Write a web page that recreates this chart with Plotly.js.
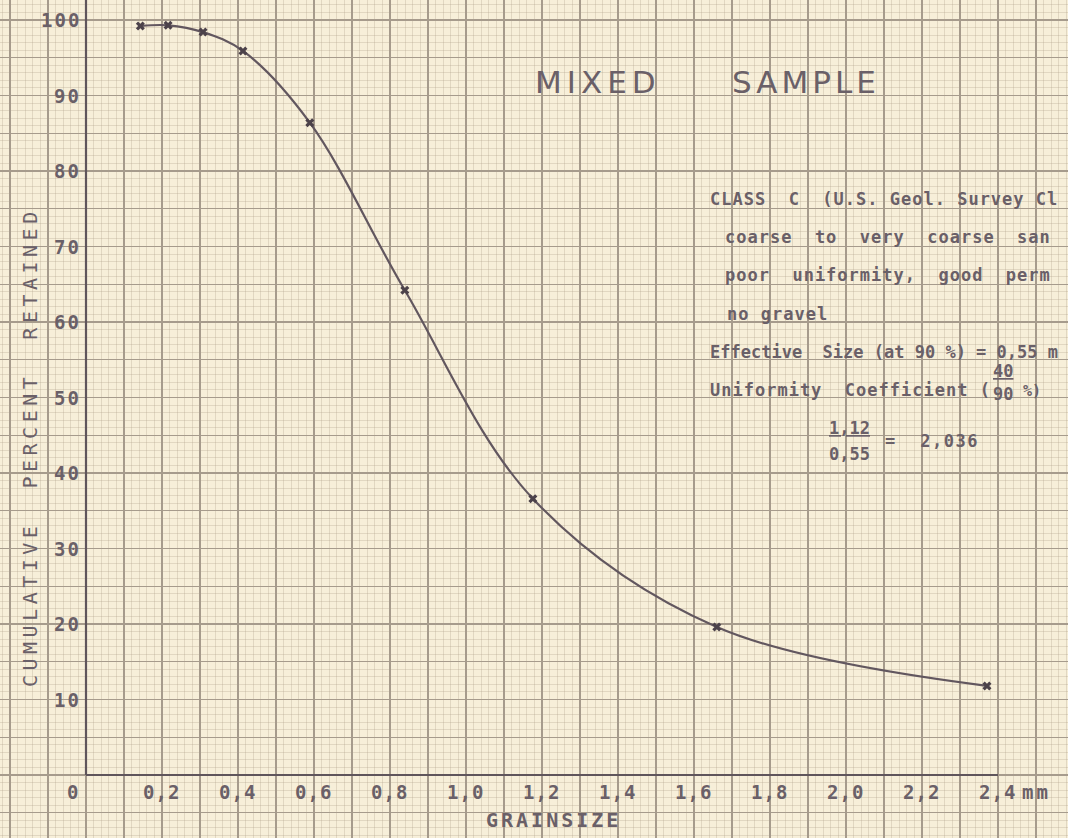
<!DOCTYPE html>
<html><head><meta charset="utf-8">
<script src="https://cdn.plot.ly/plotly-3.0.1.min.js"></script>
<style>html,body{margin:0;padding:0;background:#f7efd9;}</style>
</head><body>
<div id="chart" style="width:1068px;height:838px;"></div>
<script>
// ---- data ----
const grainSize = [0.143, 0.216, 0.308, 0.413, 0.589, 0.839, 1.176, 1.66, 2.371];
const percentRetained = [99.2, 99.3, 98.4, 95.9, 86.4, 64.2, 36.6, 19.6, 11.8];
const xTickValues = [0, 0.2, 0.4, 0.6, 0.8, 1.0, 1.2, 1.4, 1.6, 1.8, 2.0, 2.2, 2.4];
const xTickLabels = ['0', '0,2', '0,4', '0,6', '0,8', '1,0', '1,2', '1,4', '1,6', '1,8', '2,0', '2,2', '2,4'];
const yTickValues = [10, 20, 30, 40, 50, 60, 70, 80, 90, 100];
const yTickLabels = ['10', '20', '30', '40', '50', '60', '70', '80', '90', '100'];
const titleWords = ['MIXED', 'SAMPLE'];
const xTitle = 'GRAINSIZE';
const xUnit = 'mm';
const yTitle = 'CUMULATIVE\u00a0\u00a0PERCENT\u00a0\u00a0RETAINED';
const noteLines = [
  'CLASS\u00a0\u00a0C\u00a0\u00a0(U.S.\u00a0Geol.\u00a0Survey\u00a0Cl',
  'coarse\u00a0\u00a0to\u00a0\u00a0very\u00a0\u00a0coarse\u00a0\u00a0san',
  'poor\u00a0\u00a0uniformity,\u00a0\u00a0good\u00a0\u00a0perm',
  'no\u00a0gravel',
  'Effective\u00a0\u00a0Size\u00a0(at\u00a090\u00a0%)\u00a0=\u00a00,55\u00a0m',
  'Uniformity\u00a0\u00a0Coefficient\u00a0('
];
const fractionTop = '40', fractionBottom = '90', fractionTail = '%)';
const ucNumerator = '1,12', ucDenominator = '0,55', ucResult = '=\u00a0\u00a02,036';

const INK = '#6a6068';
const MONO = 'DejaVu Sans Mono, monospace';
const W = 1068, H = 838;
const px = (x) => x / W, py = (y) => 1 - y / H;
const ls = (t, s) => '<span style="letter-spacing:' + s + 'px">' + t + '</span>';

const ann = [];
// tick labels
xTickValues.forEach((v, i) => {
  ann.push({x: v, y: 0, xref: 'x', yref: 'y', text: '<b>' + ls(xTickLabels[i], 1) + '</b>',
    xanchor: i === 0 ? 'right' : 'center', xshift: i === 0 ? -5 : -1, yshift: -17, yanchor: 'middle',
    showarrow: false, font: {family: MONO, size: 19, color: INK}});
});
yTickValues.forEach((v, i) => {
  ann.push({x: 0, y: v, xref: 'x', yref: 'y', text: '<b>' + ls(yTickLabels[i], 2) + '</b>',
    xanchor: 'right', xshift: -3, yanchor: 'middle',
    showarrow: false, font: {family: MONO, size: 19, color: INK}});
});
ann.push({x: xTickValues[xTickValues.length - 1], y: 0, xref: 'x', yref: 'y', text: '<b>' + ls(xUnit, 3) + '</b>',
  xanchor: 'left', xshift: 22, yshift: -17, yanchor: 'middle', showarrow: false,
  font: {family: MONO, size: 19, color: INK}});
// axis titles
ann.push({x: px(553), y: py(820), xref: 'paper', yref: 'paper', text: '<b>' + ls(xTitle, 3) + '</b>',
  xanchor: 'center', yanchor: 'middle', showarrow: false, font: {family: MONO, size: 20, color: INK}});
ann.push({x: px(30), y: py(447), xref: 'paper', yref: 'paper', text: ls(yTitle, 4.5), textangle: -90,
  xanchor: 'center', yanchor: 'middle', showarrow: false, font: {family: MONO, size: 20, color: INK}});
// title
ann.push({x: px(598), y: py(82), xref: 'paper', yref: 'paper', text: ls(titleWords[0], 5),
  xanchor: 'center', yanchor: 'middle', showarrow: false, font: {family: 'DejaVu Sans', size: 31, color: INK}});
ann.push({x: px(806), y: py(82), xref: 'paper', yref: 'paper', text: ls(titleWords[1], 4),
  xanchor: 'center', yanchor: 'middle', showarrow: false, font: {family: 'DejaVu Sans', size: 31, color: INK}});
// notes
const noteX = [708, 723, 723, 725, 708, 708];
const noteY = [199, 237, 275, 314, 352, 390];
const noteS = [1, 1, 1, 1, 0, 1];
noteLines.forEach((t, i) => {
  ann.push({x: px(noteX[i]), y: py(noteY[i]), xref: 'paper', yref: 'paper', text: '<b>' + ls(t, noteS[i]) + '</b>',
    xanchor: 'left', yanchor: 'middle', showarrow: false, font: {family: MONO, size: 17, color: INK}});
});
const bold = {family: MONO, size: 17, color: INK, weight: 'bold'};
ann.push({x: px(1003), y: py(371), xref: 'paper', yref: 'paper', text: '<span style="text-decoration:underline">' + fractionTop + '</span>',
  xanchor: 'center', yanchor: 'middle', showarrow: false, font: bold});
ann.push({x: px(1003), y: py(394), xref: 'paper', yref: 'paper', text: fractionBottom,
  xanchor: 'center', yanchor: 'middle', showarrow: false, font: bold});
ann.push({x: px(1021), y: py(391), xref: 'paper', yref: 'paper', text: fractionTail,
  xanchor: 'left', yanchor: 'middle', showarrow: false, font: {family: MONO, size: 15, color: INK, weight: 'bold'}});
ann.push({x: px(850), y: py(428), xref: 'paper', yref: 'paper', text: '<span style="text-decoration:underline">' + ucNumerator + '</span>',
  xanchor: 'center', yanchor: 'middle', showarrow: false, font: bold});
ann.push({x: px(850), y: py(454), xref: 'paper', yref: 'paper', text: ucDenominator,
  xanchor: 'center', yanchor: 'middle', showarrow: false, font: bold});
ann.push({x: px(883), y: py(441), xref: 'paper', yref: 'paper', text: ls(ucResult, 1.5),
  xanchor: 'left', yanchor: 'middle', showarrow: false, font: bold});

const trace = {
  x: grainSize, y: percentRetained, type: 'scatter', mode: 'lines+markers',
  line: {shape: 'spline', smoothing: 1.0, color: '#62575f', width: 2.2},
  marker: {symbol: 'x', size: 8, color: '#4c424a'},
  hoverinfo: 'skip', showlegend: false
};

const layout = {
  width: W, height: H,
  margin: {l: 0, r: 0, t: 0, b: 0},
  paper_bgcolor: '#f7efd9', plot_bgcolor: '#f7efd9',
  showlegend: false,
  xaxis: {range: [-86 / 380, (W - 86) / 380], tick0: 0, dtick: 0.1, showgrid: true,
    gridcolor: '#a69b8c', gridwidth: 1.1, showticklabels: false, ticks: '', zeroline: false, showline: false,
    minor: {dtick: 0.02, showgrid: true, gridcolor: 'rgba(175,160,140,0.3)', gridwidth: 1}},
  yaxis: {range: [(775 - H) / 7.55, 775 / 7.55], tick0: 0, dtick: 5, showgrid: true,
    gridcolor: '#a69b8c', gridwidth: 1.1, showticklabels: false, ticks: '', zeroline: false, showline: false,
    minor: {dtick: 1, showgrid: true, gridcolor: 'rgba(175,160,140,0.3)', gridwidth: 1}},
  shapes: [
    {type: 'line', xref: 'x', yref: 'y', x0: 0, x1: xTickValues[xTickValues.length - 1], y0: 0, y1: 0,
      line: {color: '#5f555b', width: 2.2}},
    {type: 'line', xref: 'x', yref: 'paper', x0: 0, x1: 0, y0: py(775), y1: 1,
      line: {color: '#5f555b', width: 2.2}}
  ],
  annotations: ann
};

Plotly.newPlot('chart', [trace], layout, {staticPlot: true, displayModeBar: false});
</script>
</body></html>
